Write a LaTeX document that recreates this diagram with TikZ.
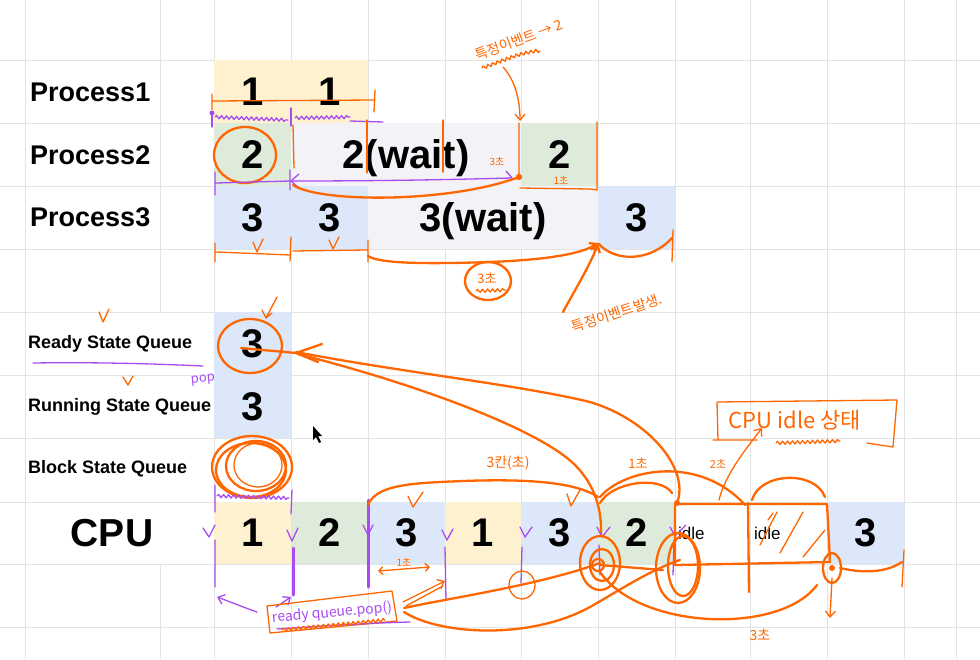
\documentclass[tikz,border=0pt]{standalone}
\usepackage{fontspec}
\setmainfont{Liberation Sans}
\newfontfamily\kr{Noto Sans CJK KR}
\usetikzlibrary{decorations.pathmorphing,arrows.meta}
\definecolor{yel}{HTML}{FDF1CF}
\definecolor{grn}{HTML}{DEEBDA}
\definecolor{blu}{HTML}{DCE8FA}
\definecolor{gry}{HTML}{F3F2F6}
\definecolor{org}{HTML}{FF6600}
\definecolor{pur}{HTML}{A84CF2}
\definecolor{gridc}{HTML}{E3E3E3}
\begin{document}
\begin{tikzpicture}[x=1pt,y=-1pt,
 gl/.style={draw=gridc, line width=1pt},
 cell/.style={minimum height=63pt, minimum width=77pt, inner sep=0pt, outer sep=0pt, text depth=0pt, font=\bfseries\fontsize{40}{44}\selectfont},
 plab/.style={anchor=west, inner sep=0pt, font=\bfseries\fontsize{27}{30}\selectfont},
 qlab/.style={anchor=west, inner sep=0pt, font=\bfseries\fontsize{18}{20}\selectfont},
 idl/.style={anchor=west, inner sep=0pt, font=\fontsize{17}{20}\selectfont},
 orn/.style={draw=org, line width=1.3pt, line cap=round, line join=round},
 ornb/.style={draw=org, line width=2.3pt, line cap=round, line join=round},
 prp/.style={draw=pur, line width=1.3pt, line cap=round, line join=round},
 prpb/.style={draw=pur, line width=3pt, line cap=round},
 otxt/.style={text=org, inner sep=0pt},
 ptxt/.style={text=pur, inner sep=0pt},
 sq/.style={decorate, decoration={snake, amplitude=1.6pt, segment length=5pt}},
 barb/.style={-{Straight Barb[length=6pt,width=10pt]}},
]
\useasboundingbox (0,0) rectangle (980,659);
\fill[white] (0,0) rectangle (980,659);
% grid
\foreach \y in {60,123,186,249,312,375,438,502,564,627} \draw[gl] (0,\y)--(980,\y);
\foreach \x in {25,214,291,368,445,521,598,675,750,827,904,956} \draw[gl] (\x,0)--(\x,659);
\draw[gl] (160,0)--(160,312);
\draw[gl] (160,564)--(160,659);

% process rows
\node[cell, fill=yel] (p1a) at (252.5,91.5) {1};
\node[cell, fill=yel] (p1b) at (329.5,91.5) {1};
\node[cell, fill=grn] (p2a) at (252.5,154.5) {2};
\node[cell, fill=gry, minimum width=230pt] (p2w) at (406,154.5) {2(wait)};
\node[cell, fill=grn] (p2b) at (559.5,154.5) {2};
\node[cell, fill=blu] (p3a) at (252.5,217.5) {3};
\node[cell, fill=blu] (p3b) at (329.5,217.5) {3};
\node[cell, fill=gry, minimum width=230pt] (p3w) at (483,217.5) {3(wait)};
\node[cell, fill=blu] (p3c) at (636.5,217.5) {3};

% queues
\node[cell, fill=blu] (rq) at (252.5,343.5) {3};
\node[cell, fill=blu] (runq) at (252.5,406.5) {3};

% cpu row
\node[cell, fill=yel, minimum height=62pt] (c1) at (252.5,533) {1};
\node[cell, fill=grn, minimum height=62pt] (c2) at (329.5,533) {2};
\node[cell, fill=blu, minimum height=62pt] (c3) at (406.5,533) {3};
\node[cell, fill=yel, minimum height=62pt, minimum width=76pt] (c4) at (483,533) {1};
\node[cell, fill=blu, minimum height=62pt] (c5) at (559.5,533) {3};
\node[cell, fill=grn, minimum height=62pt] (c6) at (636.5,533) {2};
\node[idl] (c7) at (678,533) {idle};
\node[idl] (c8) at (754,533) {idle};
\node[cell, fill=blu, minimum height=62pt] (c9) at (865.5,533) {3};

% labels
\node[plab] (l1) at (30,92) {Process1};
\node[plab] (l2) at (30,155) {Process2};
\node[plab] (l3) at (30,217) {Process3};
\node[qlab] (lr) at (28,344) {Ready State Queue};
\node[qlab] (lrun) at (28,407) {Running State Queue};
\node[qlab] (lb) at (28,469) {Block State Queue};
\node[font=\bfseries\fontsize{39}{42}\selectfont, inner sep=0pt] (lcpu) at (112,533) {CPU};

% ---- annotations: process1
\draw[orn] (212,94)--(212,110) (212,101)--(375,100) (375,90)--(374,112);
\fill[pur] (212,113) circle (2.5);
\draw[prp] (212,112)--(212,127);
\draw[prp, sq] (215,117)--(288,120);
\draw[prp] (291,108)--(291,126);
\draw[prp, sq] (295,118)--(350,117);
\draw[prp] (350,121)--(383,122);

% process2
\draw[ornb] (245,155) ellipse [x radius=31, y radius=28];
\draw[orn] (293,125)--(294,168);
\draw[orn] (367,120)--(367,173) (443,120)--(443,172);
\draw[prp] (215,172)--(215,195) (216,183)--(290,181) (290,170)--(290,190);
\draw[prp] (299,174)--(291,181)--(299,188);
\draw[prp] (291,181) .. controls (400,181) and (470,179) .. (512,178) -- (506,171);
\draw[ornb] (293,185) .. controls (320,203) and (450,203) .. (519,177);
\fill[org] (519,177) circle (3.2);
\node[otxt, font=\kr\fontsize{10}{10}\selectfont] (t3s) at (497,162) {3초};
\draw[orn] (519,123)--(519,177) (520,188)--(590,189)--(597,190) (597,122)--(597,190);
\node[otxt, font=\kr\fontsize{10}{10}\selectfont] (t1s) at (561,180) {1초};
\node[otxt, rotate=20, font=\kr\fontsize{14}{14}\selectfont] (tev) at (519,40) {특정이벤트 → 2};
\draw[orn, sq] (482,68) .. controls (500,62) and (520,52) .. (540,51);
\draw[orn, barb] (503,67) .. controls (515,80) and (520,100) .. (520,121);

% process3
\draw[orn] (215,243)--(215,262) (216,252)--(290,255) (291,237)--(290,261) (293,251)--(367,250) (368,240)--(368,262);
\draw[orn] (253,242)--(257,252)--(263,239) (329,240)--(333,249)--(339,237);
\draw[ornb, barb] (368,256) .. controls (380,264) and (430,264) .. (490,262) .. controls (540,260) and (580,255) .. (598,243);
\draw[ornb, barb] (563,312) .. controls (575,290) and (590,265) .. (598,244);
\draw[ornb] (599,244) .. controls (615,262) and (650,262) .. (672,238);
\draw[orn] (673,230)--(672,262);
\draw[ornb] (488,281) ellipse [x radius=23, y radius=19];
\node[otxt, font=\kr\fontsize{13}{13}\selectfont] (t3c) at (487,278) {3초};
\draw[orn, sq] (476,291)--(506,290);
\node[otxt, rotate=18, font=\kr\fontsize{14}{14}\selectfont] (tev2) at (617,313) {특정이벤트발생.};

% queue area
\draw[orn] (99,312)--(103,322)--(109,309);
\draw[orn] (277,297)--(266,318) (262,310)--(266,318)--(272,313);
\draw[ornb] (250,346) ellipse [x radius=32, y radius=27];
\draw[ornb] (241,348)--(296,353);
\draw[ornb] (322,344)--(296,353)--(318,362);
\draw[ornb] (296,352) .. controls (400,372) and (520,385) .. (590,402) .. controls (650,420) and (690,470) .. (677,503);
\draw[ornb] (298,354) .. controls (420,385) and (540,430) .. (575,465) .. controls (595,485) and (602,510) .. (601,535);
\draw[prp] (33,363) .. controls (100,362) and (160,364) .. (203,366);
\draw[orn] (123,377)--(128,385)--(133,376);
\node[ptxt, rotate=5, font=\kr\fontsize{13}{13}\selectfont] (pop) at (203,380) {pop};
\fill[black] (313,426)--(313,440)--(316,437)--(319,443)--(321,442)--(318,436)--(322,436)--cycle;

% block circles
\draw[ornb] (252,467) ellipse [x radius=40, y radius=31];
\draw[ornb] (256,466) ellipse [x radius=30, y radius=25];
\draw[ornb] (251,470) ellipse [x radius=35, y radius=27];
\draw[orn] (258,465) ellipse [x radius=24, y radius=22];
\draw[prp] (215,485)--(215,512) (292,490)--(291,514);
\draw[prp, sq] (217,496)--(289,498);

% cpu purple marks
\draw[prp] (203,528)--(209,537)--(215,525) (215,540)--(215,587);
\draw[prp] (287,530)--(292,541)--(298,528);
\draw[prpb] (293,548)--(293,595);
\draw[prpb] (368,500)--(368,587);
\draw[prp] (363,525)--(368,535)--(373,525);
\draw[prp] (442,530)--(447,540)--(453,529) (445,547)--(446,600);
\draw[prp] (520,527)--(525,537)--(532,527) (522,547)--(521,583);
\draw[prp] (597,527)--(602,537)--(610,527) (599,545)--(600,575);
\draw[prp] (670,527)--(675,536)--(686,525) (674,540)--(673,575);
\draw[prp, barb] (257,612) .. controls (240,606) and (228,601) .. (217,597);
\draw[prp, barb] (276,607) -- (291,597);

% ready queue.pop() box
\draw[orn] (267,606)--(392,591)--(397,621)--(270,633)--cycle;
\node[ptxt, rotate=5, font=\kr\fontsize{14}{14}\selectfont] (rqp) at (332,613) {ready queue.pop()};
\draw[prp] (277,629) .. controls (320,626) and (370,623) .. (410,622);
\draw[orn, sq] (282,630)--(385,620);
\draw[orn, barb] (403,602)--(445,581);
\draw[orn] (406,606)--(443,586);
\draw[ornb] (404,608) .. controls (450,598) and (540,585) .. (600,563);
\draw[ornb] (404,612) .. controls (440,635) and (530,640) .. (590,607) .. controls (620,590) and (650,570) .. (680,560);
\draw[orn] (522,585) ellipse [x radius=13, y radius=14];
\node[otxt, font=\kr\fontsize{10}{10}\selectfont] (t1b) at (404,562) {1초};
\draw[orn, {Straight Barb[length=4pt]}-{Straight Barb[length=4pt]}] (378,571)--(430,567);
\draw[orn] (408,496)--(413,507)--(423,492) (567,494)--(571,506)--(580,490);

% upper cpu arcs
\draw[ornb] (368,505) .. controls (375,488) and (400,484) .. (440,482) .. controls (500,479) and (570,478) .. (598,497);
\node[otxt, font=\kr\fontsize{14}{14}\selectfont] (t3k) at (508,463) {3칸(초)};
\draw[ornb] (600,503) .. controls (612,482) and (660,475) .. (672,493);
\node[otxt, font=\kr\fontsize{13}{13}\selectfont] (t1c) at (638,463) {1초};
\draw[ornb] (600,497) .. controls (625,468) and (700,455) .. (745,505);
\node[otxt, font=\kr\fontsize{11}{11}\selectfont] (t2c) at (718,464) {2초};
\draw[orn, barb] (719,500) .. controls (725,475) and (745,450) .. (762,428);
\draw[orn] (713,440)--(757,440) (717,402)--(718,440) (717,402)--(897,400)--(893,447)--(867,443);
\node[otxt, font=\kr\fontsize{22}{22}\selectfont] (tidle) at (795,420) {CPU idle 상태};
\draw[orn, sq] (776,443)--(840,441);

% idle box
\draw[ornb] (675,505)--(677,504)--(827,504)--(830,562)--(675,565)--cycle;
\draw[ornb] (748,503)--(749,592);
\fill[org] (677,503) circle (3);
\draw[orn] (760,545)--(777,512) (780,553)--(803,512) (803,557)--(825,530) (768,520)--(773,513);
\draw[ornb] (752,500) .. controls (760,472) and (815,470) .. (825,497);
\draw[ornb] (600,565) -- (663,570);

% wheels
\draw[ornb] (600,563) ellipse [x radius=20, y radius=27];
\draw[ornb] (602,565) ellipse [x radius=12, y radius=16];
\draw[ornb] (598,565) circle (6);
\draw[ornb] (678,568) ellipse [x radius=22, y radius=35];
\draw[ornb] (683,566) ellipse [x radius=15, y radius=30];
\draw[ornb] (832,568) ellipse [x radius=9, y radius=15];
\fill[org] (832,568) circle (3);
\draw[ornb] (840,568) .. controls (870,575) and (890,570) .. (902,562);
\draw[orn] (904,550)--(902,587);
\draw[orn, barb] (832,578)--(830,618);
\draw[ornb] (600,572) .. controls (640,630) and (780,635) .. (817,585);
\node[otxt, font=\kr\fontsize{14}{14}\selectfont] (t3b) at (760,635) {3초};
\end{tikzpicture}
\end{document}
